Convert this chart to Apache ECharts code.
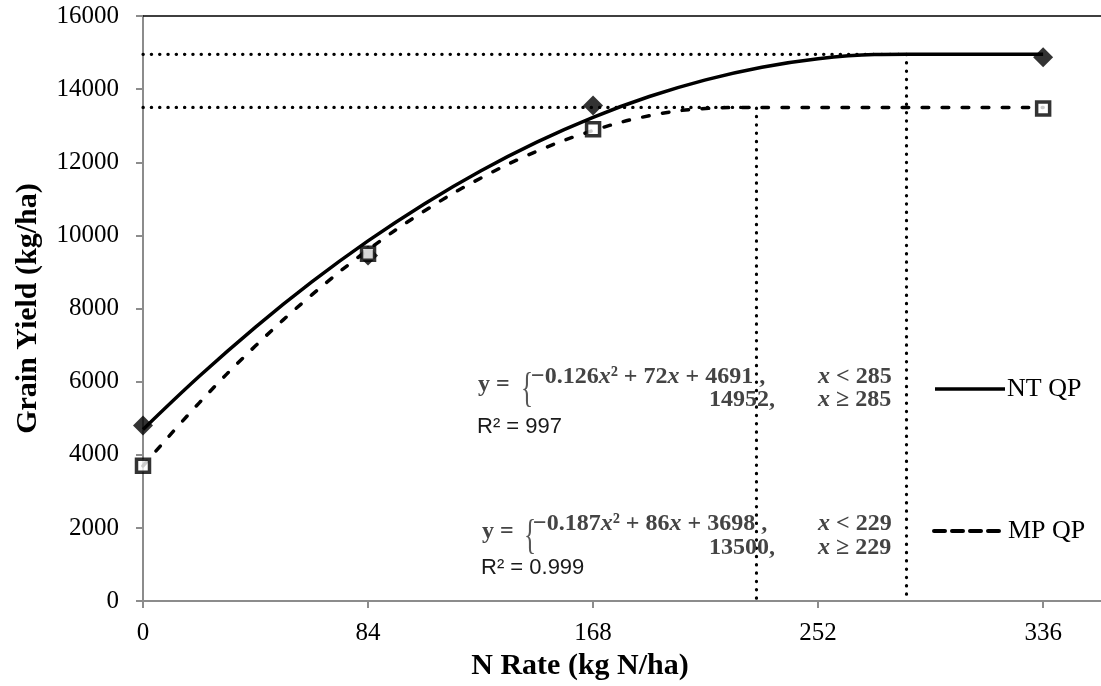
<!DOCTYPE html>
<html><head><meta charset="utf-8">
<script src="https://cdn.jsdelivr.net/npm/echarts@6/dist/echarts.min.js"></script>
<style>html,body{margin:0;padding:0;background:#fff}#c{width:1101px;height:686px}</style>
</head><body><div id="c"></div>
<script>
// ---- data ----
const N_RATES   = [0, 84, 168, 336];
const NT_YIELD  = [4800, 9450, 13550, 14870];
const MP_YIELD  = [3700, 9500, 12900, 13470];

const NT_CURVE_X = [0, 21, 42, 63, 84, 105, 126, 147, 168, 189, 210, 231, 252, 273, 285, 336];
const NT_CURVE_Y = [4691, 6147, 7493, 8727, 9850, 10862, 11763, 12552, 13231, 13798, 14254, 14600, 14833, 14945, 14952, 14952];
const MP_CURVE_X = [0, 21, 42, 63, 84, 105, 126, 147, 168, 189, 210, 229, 336];
const MP_CURVE_Y = [3698, 5422, 6980, 8374, 9603, 10666, 11565, 12299, 12868, 13272, 13470, 13500, 13500];

const NT_JOIN_X = 285, NT_PLATEAU_Y = 14952;
const MP_JOIN_X = 229, MP_PLATEAU_Y = 13500;

const X_TICK_STEP = 84, X_MAX = 357.6;
const Y_TICK_STEP = 2000, Y_MAX = 16000;

const SERIES_NAMES = ['NT QP', 'MP QP'];
const X_TITLE = 'N Rate (kg N/ha)';
const Y_TITLE = 'Grain Yield (kg/ha)';
const NT_EQ = ['−0.126x² + 72x + 4691 ,', '14952,', 'x < 285', 'x ≥ 285', 'R² = 997'];
const MP_EQ = ['−0.187x² + 86x + 3698 ,', '13500,', 'x < 229', 'x ≥ 229', 'R² = 0.999'];

// ---- build ----
const zip = (xs, ys) => xs.map((x, i) => [x, ys[i]]);
const serif = '"Liberation Serif", "Times New Roman", serif';
const eqFont = 'bold 24px ' + serif;
const eqColor = '#444';

function eqText(x, y, text, align, font, fill, extra) {
  return Object.assign({ type: 'text', x: x, y: y, z: 100,
    style: { text: text, font: font || eqFont, fill: fill || eqColor, align: align || 'left', verticalAlign: 'middle' } }, extra || {});
}
function eqRich(x, y, text) {
  const parts = text.split('x');
  let s = '';
  parts.forEach((p, i) => { s += '{n|' + p + '}'; if (i < parts.length - 1) s += '{i|x}'; });
  return { type: 'text', x: x, y: y, z: 100,
    style: { text: s, fill: eqColor, align: 'left', verticalAlign: 'middle',
      rich: { n: { font: eqFont, fill: eqColor }, i: { font: 'italic bold 24px ' + serif, fill: eqColor } } } };
}
function equationBlock(eq, xY, xBrace, xL1, yL1, yL2, yR) {
  const yMid = (yL1 + yL2) / 2;
  return [
    eqRich(xY, yMid - 4, 'y ='),
    eqText(xBrace, yMid + 1, '{', 'left', '42px ' + serif, '#555', { scaleX: 0.6 }),
    eqRich(xL1, yL1, eq[0]),
    eqText(775, yL2, eq[1], 'right'),
    eqRich(818, yL1, eq[2]),
    eqRich(818, yL2, eq[3]),
    eqText(xY - 1, yR, eq[4], 'left', '22px "Liberation Sans", Arial, sans-serif', '#1a1a1a')
  ];
}

const dotted = { color: '#000', width: 3.2, type: [0.3, 8], cap: 'round' };

const option = {
  animation: false,
  backgroundColor: '#fff',
  grid: { left: 143, right: 0, top: 16, bottom: 83, containLabel: false },
  xAxis: [{
    type: 'value', min: 0, max: X_MAX, interval: X_TICK_STEP,
    name: X_TITLE, nameLocation: 'middle', nameGap: 48,
    nameTextStyle: { fontFamily: serif, fontWeight: 'bold', fontSize: 30, color: '#000', padding: [0, 84, 0, 0] },
    axisLine: { lineStyle: { color: '#8c8c8c', width: 2 } },
    axisTick: { show: true, length: 7, lineStyle: { color: '#8c8c8c', width: 2 } },
    axisLabel: { fontFamily: serif, fontSize: 25, color: '#000', margin: 20, showMaxLabel: false,
      formatter: v => String(v) },
    splitLine: { show: false }
  }, {
    type: 'value', position: 'top', min: 0, max: X_MAX,
    axisLine: { show: true, onZero: false, lineStyle: { color: '#000', width: 1.5 } },
    axisTick: { show: false }, axisLabel: { show: false }, splitLine: { show: false }
  }],
  yAxis: {
    type: 'value', min: 0, max: Y_MAX, interval: Y_TICK_STEP,
    name: Y_TITLE, nameLocation: 'middle', nameGap: 100, nameRotate: 90,
    nameTextStyle: { fontFamily: serif, fontWeight: 'bold', fontSize: 30, color: '#000' },
    axisLine: { show: true, lineStyle: { color: '#8c8c8c', width: 2 } },
    axisTick: { show: true, length: 7, lineStyle: { color: '#8c8c8c', width: 2 } },
    axisLabel: { fontFamily: serif, fontSize: 25, color: '#000', margin: 24, formatter: v => String(v) },
    splitLine: { show: false }
  },
  series: [
    { name: 'NT plateau guide', type: 'line', symbol: 'none', z: 1, silent: true,
      data: [[0, NT_PLATEAU_Y], [NT_JOIN_X, NT_PLATEAU_Y], [NT_JOIN_X, 0]], lineStyle: dotted },
    { name: 'MP plateau guide', type: 'line', symbol: 'none', z: 1, silent: true,
      data: [[0, MP_PLATEAU_Y], [MP_JOIN_X, MP_PLATEAU_Y], [MP_JOIN_X, 0]], lineStyle: dotted },
    { name: SERIES_NAMES[0], type: 'line', symbol: 'none', z: 3, smooth: 0.4,
      data: zip(NT_CURVE_X, NT_CURVE_Y), lineStyle: { color: '#000', width: 3.5 } },
    { name: SERIES_NAMES[1], type: 'line', symbol: 'none', z: 3, smooth: 0.4,
      data: zip(MP_CURVE_X, MP_CURVE_Y), lineStyle: { color: '#000', width: 3.5, type: [6.5, 13.5], cap: 'round' } },
    { name: SERIES_NAMES[0] + ' observed', type: 'scatter', symbol: 'diamond', symbolSize: 20, z: 5,
      data: zip(N_RATES, NT_YIELD), itemStyle: { color: '#000' } },
    { name: SERIES_NAMES[1] + ' observed', type: 'scatter', symbol: 'rect', symbolSize: 13, z: 6,
      data: zip(N_RATES, MP_YIELD), itemStyle: { color: '#fff', borderColor: '#000', borderWidth: 3.5 } }
  ],
  graphic: [].concat(
    equationBlock(NT_EQ, 478, 521, 531, 377, 400, 427),
    equationBlock(MP_EQ, 482, 524, 533, 524, 548, 568),
    [
      { type: 'line', z: 100, shape: { x1: 935, y1: 389, x2: 1005, y2: 389 }, style: { stroke: '#000', lineWidth: 3.5 } },
      eqText(1007, 389, SERIES_NAMES[0], 'left', '26px ' + serif, '#000'),
      { type: 'line', z: 100, shape: { x1: 934, y1: 531, x2: 1002, y2: 531 },
        style: { stroke: '#000', lineWidth: 4, lineDash: [11, 7], lineCap: 'round' } },
      eqText(1008, 531, SERIES_NAMES[1], 'left', '26px ' + serif, '#000')
    ]
  )
};

const chart = echarts.init(document.getElementById('c'), null, { renderer: 'canvas' });
chart.setOption(option);
</script>
</body></html>
